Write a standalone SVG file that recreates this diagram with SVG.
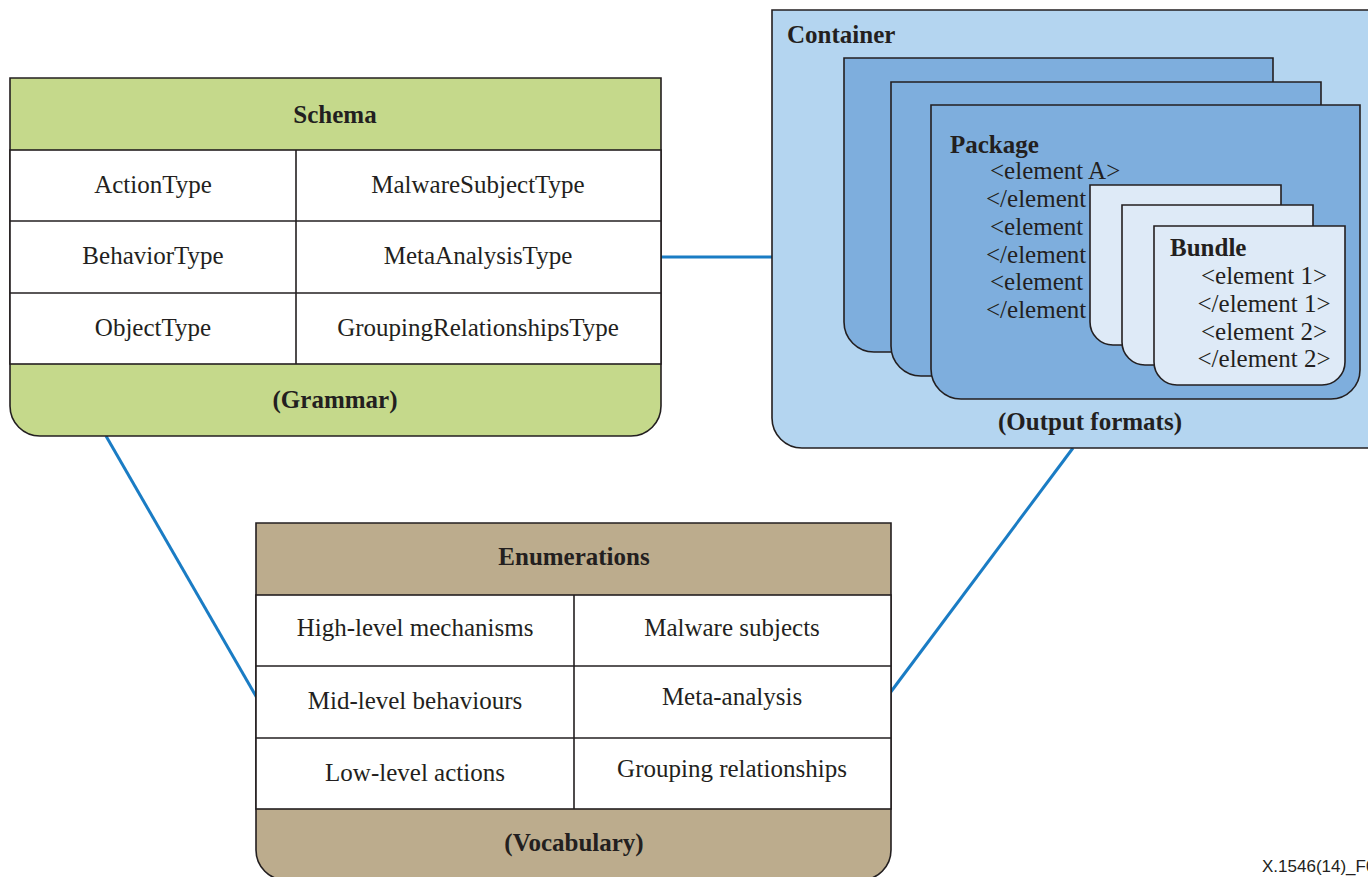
<svg xmlns="http://www.w3.org/2000/svg" width="1368" height="877" viewBox="0 0 1368 877">
  <style>
    .edge { stroke: #231f20; stroke-width: 1.6; }
    .t { font-family: "Liberation Serif", "Times New Roman", serif; font-size: 25px; fill: #231f20; }
    .b { font-weight: bold; }
    .mid { text-anchor: middle; }
    .link { stroke: #1a7cc4; stroke-width: 3; fill: none; }
    .grammar { fill: #c5d98b; }
    .vocab { fill: #bcac8d; }
    .cont { fill: #b4d5f0; }
    .pkg { fill: #7eaedd; }
    .bnd { fill: #deeaf7; }
  </style>
  <rect width="1368" height="877" fill="#ffffff"/>

  <!-- connectors between the three blocks -->
  <g id="connectors">
    <line class="link" x1="661" y1="257" x2="773" y2="257"/>
    <line class="link" x1="106" y1="436" x2="257" y2="698"/>
    <line class="link" x1="1073" y1="448" x2="890" y2="693"/>
  </g>

  <!-- Schema / Grammar table -->
  <g id="schema">
    <path class="grammar edge" d="M10,78 H661 V406 A30,30 0 0 1 631,436 H40 A30,30 0 0 1 10,406 Z"/>
    <rect x="10" y="150" width="651" height="214" fill="#ffffff" class="edge"/>
    <line class="edge" x1="10" y1="221" x2="661" y2="221"/>
    <line class="edge" x1="10" y1="293" x2="661" y2="293"/>
    <line class="edge" x1="296" y1="150" x2="296" y2="364"/>
    <text class="t b mid" x="335" y="123">Schema</text>
    <text class="t mid" x="153" y="193">ActionType</text>
    <text class="t mid" x="478" y="193">MalwareSubjectType</text>
    <text class="t mid" x="153" y="264">BehaviorType</text>
    <text class="t mid" x="478" y="264">MetaAnalysisType</text>
    <text class="t mid" x="153" y="336">ObjectType</text>
    <text class="t mid" x="478" y="336">GroupingRelationshipsType</text>
    <text class="t b mid" x="335" y="408">(Grammar)</text>
  </g>

  <!-- Enumerations / Vocabulary table -->
  <g id="enumerations">
    <path class="vocab edge" d="M256,523 H891 V850 A30,30 0 0 1 861,880 H286 A30,30 0 0 1 256,850 Z"/>
    <rect x="256" y="595" width="635" height="214" fill="#ffffff" class="edge"/>
    <line class="edge" x1="256" y1="666" x2="891" y2="666"/>
    <line class="edge" x1="256" y1="738" x2="891" y2="738"/>
    <line class="edge" x1="574" y1="595" x2="574" y2="809"/>
    <text class="t b mid" x="574" y="565">Enumerations</text>
    <text class="t mid" x="415" y="636">High-level mechanisms</text>
    <text class="t mid" x="732" y="636">Malware subjects</text>
    <text class="t mid" x="415" y="709">Mid-level behaviours</text>
    <text class="t mid" x="732" y="705">Meta-analysis</text>
    <text class="t mid" x="415" y="781">Low-level actions</text>
    <text class="t mid" x="732" y="777">Grouping relationships</text>
    <text class="t b mid" x="574" y="851">(Vocabulary)</text>
  </g>

  <!-- Container / Output formats -->
  <g id="container">
    <path class="cont edge" d="M772,10 H1375 V448 H802 A30,30 0 0 1 772,418 Z"/>
    <text class="t b" x="787" y="43">Container</text>
    <text class="t b mid" x="1090" y="430">(Output formats)</text>
  </g>

  <g id="package-stack">
    <path class="pkg edge" d="M844,58 H1273 V352 H874 A30,30 0 0 1 844,322 Z"/>
    <path class="pkg edge" d="M891,82 H1321 V376 H921 A30,30 0 0 1 891,346 Z"/>
  </g>

  <g id="package">
    <path class="pkg edge" d="M931,105 H1360 V370 A29,29 0 0 1 1331,399 H961 A30,30 0 0 1 931,369 Z"/>
    <text class="t b" x="950" y="153">Package</text>
    <text class="t" x="990" y="179">&lt;element A&gt;</text>
    <text class="t" x="986" y="207">&lt;/element</text>
    <text class="t" x="990" y="235">&lt;element</text>
    <text class="t" x="986" y="263">&lt;/element</text>
    <text class="t" x="990" y="290">&lt;element</text>
    <text class="t" x="986" y="318">&lt;/element</text>
  </g>

  <g id="bundle-stack">
    <path class="bnd edge" d="M1090,185 H1281 V345 H1113 A23,23 0 0 1 1090,322 Z"/>
    <path class="bnd edge" d="M1122,205 H1313 V365 H1145 A23,23 0 0 1 1122,342 Z"/>
  </g>

  <g id="bundle">
    <path class="bnd edge" d="M1154,226 H1345 V362 A23,23 0 0 1 1322,385 H1177 A23,23 0 0 1 1154,362 Z"/>
    <text class="t b" x="1170" y="256">Bundle</text>
    <text class="t mid" x="1264" y="284">&lt;element 1&gt;</text>
    <text class="t mid" x="1264" y="312">&lt;/element 1&gt;</text>
    <text class="t mid" x="1264" y="340">&lt;element 2&gt;</text>
    <text class="t mid" x="1264" y="367">&lt;/element 2&gt;</text>
  </g>

  <text x="1262" y="872" font-family="Liberation Sans, Arial, sans-serif" font-size="17" fill="#231f20">X.1546(14)_F01</text>
</svg>
